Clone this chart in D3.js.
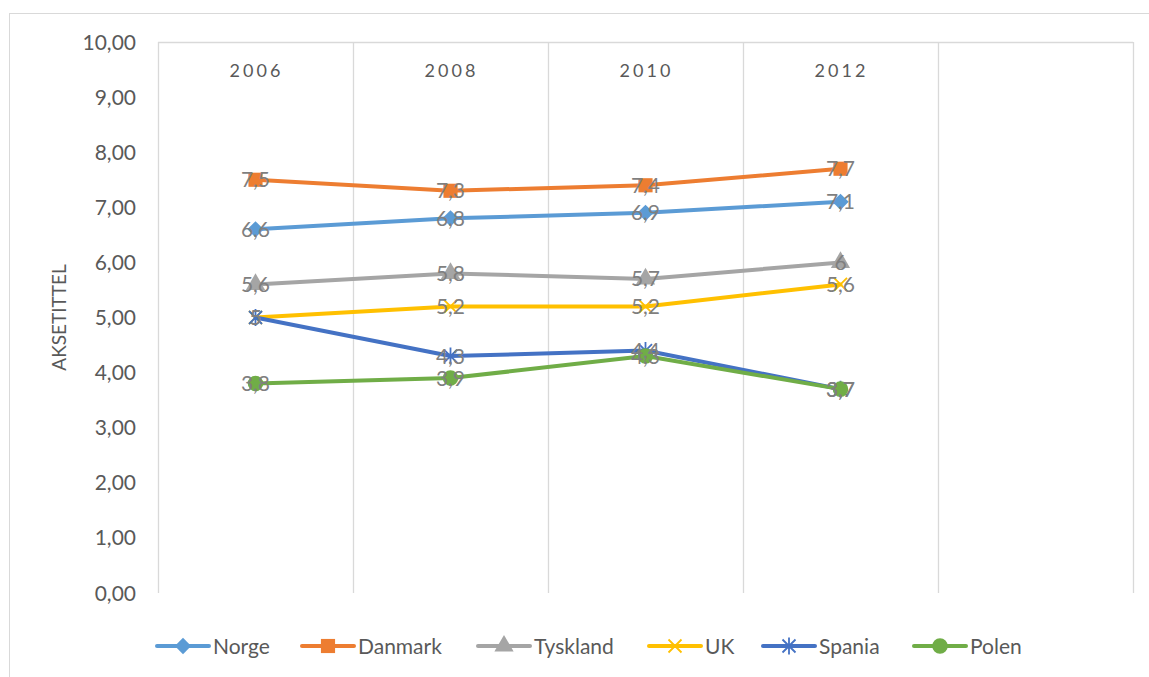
<!DOCTYPE html>
<html>
<head>
<meta charset="utf-8">
<script src="https://cdn.jsdelivr.net/npm/d3@7"></script>
<style>
  body { margin: 0; background: #fff; }
  text { font-family: Lato, "Open Sans", sans-serif; }
</style>
</head>
<body>
<div id="chart"></div>
<script>
// categories (last slot is an empty category, as in the original)
const years = ["2006", "2008", "2010", "2012", ""];
const seriesNames = ["Norge", "Danmark", "Tyskland", "UK", "Spania", "Polen"];
const norge = [6.6, 6.8, 6.9, 7.1];
const danmark = [7.5, 7.3, 7.4, 7.7];
const tyskland = [5.6, 5.8, 5.7, 6];
const uk = [5, 5.2, 5.2, 5.6];
const spania = [5, 4.3, 4.4, 3.7];
const polen = [3.8, 3.9, 4.3, 3.7];
const yTicks = [0, 1, 2, 3, 4, 5, 6, 7, 8, 9, 10];

const colors = ["#5B9BD5", "#ED7D31", "#A5A5A5", "#FFC000", "#4472C4", "#70AD47"];
const shapes = ["diamond", "square", "triangle", "x", "star", "circle"];
const allValues = [norge, danmark, tyskland, uk, spania, polen];

const width = 1149, height = 677;
const margin = {top: 42, right: 16, bottom: 84, left: 158};

const svg = d3.select("#chart")
    .append("svg")
    .attr("width", width)
    .attr("height", height);

// outer chart border (runs off the right/bottom edge like the source)
svg.append("rect")
    .attr("x", 9.5).attr("y", 13.5)
    .attr("width", 1160).attr("height", 700)
    .attr("fill", "none")
    .attr("stroke", "#d9d9d9");

const x = d3.scaleBand()
    .domain(years)
    .range([margin.left, width - margin.right]);

const y = d3.scaleLinear()
    .domain([0, 10])
    .range([height - margin.bottom, margin.top]);

// vertical gridlines at category boundaries
const bounds = years.map(d => x(d)).concat([x.range()[1]]);
svg.append("g")
    .selectAll("line")
    .data(bounds)
    .join("line")
    .attr("x1", d => Math.round(d) + 0.5)
    .attr("x2", d => Math.round(d) + 0.5)
    .attr("y1", y(10))
    .attr("y2", y(0))
    .attr("stroke", "#d9d9d9")
    .attr("stroke-width", 1.3);

// category axis at the top
svg.append("line")
    .attr("x1", x.range()[0]).attr("x2", x.range()[1])
    .attr("y1", y(10) + 0.5).attr("y2", y(10) + 0.5)
    .attr("stroke", "#d9d9d9")
    .attr("stroke-width", 1.3);

svg.append("g")
    .selectAll("text")
    .data(years)
    .join("text")
    .attr("x", d => x(d) + x.bandwidth() / 2 + 1)
    .attr("y", 77)
    .attr("text-anchor", "middle")
    .attr("fill", "#595959")
    .style("font-size", "18px")
    .style("letter-spacing", "3px")
    .text(d => d);

// value axis labels
svg.append("g")
    .selectAll("text")
    .data(yTicks)
    .join("text")
    .attr("x", 136)
    .attr("y", d => y(d))
    .attr("dy", "0.36em")
    .attr("text-anchor", "end")
    .attr("fill", "#595959")
    .style("font-size", "21px")
    .text(d => d3.format(".2f")(d).replace(".", ","));

svg.append("text")
    .attr("transform", `translate(66, ${(y(0) + y(10)) / 2}) rotate(-90)`)
    .attr("text-anchor", "middle")
    .attr("fill", "#595959")
    .style("font-size", "19px")
    .text("AKSETITTEL");

function markerPath(shape) {
    switch (shape) {
        case "diamond": return d3.symbol(d3.symbolDiamond2, 170)();
        case "square": return d3.symbol(d3.symbolSquare, 200)();
        case "triangle": return d3.symbol(d3.symbolTriangle, 160)();
        case "circle": return d3.symbol(d3.symbolCircle, 190)();
        case "x": return "M-6.5,-6.5L6.5,6.5M-6.5,6.5L6.5,-6.5";
        case "star": return "M-6.5,-6.5L6.5,6.5M-6.5,6.5L6.5,-6.5M0,-8.5L0,8.5";
    }
}

function drawMarker(g, shape, color) {
    const p = g.append("path").attr("d", markerPath(shape));
    if (shape === "x" || shape === "star") {
        p.attr("fill", "none").attr("stroke", color).attr("stroke-width", 1.8);
    } else {
        p.attr("fill", color);
    }
}

const xc = (i) => x(years[i]) + x.bandwidth() / 2;
const line = d3.line()
    .x((d, i) => xc(i))
    .y(d => y(d));

// series lines + markers
allValues.forEach((vals, s) => {
    const g = svg.append("g");
    g.append("path")
        .datum(vals)
        .attr("d", line)
        .attr("fill", "none")
        .attr("stroke", colors[s])
        .attr("stroke-width", 4)
        .attr("stroke-linejoin", "round")
        .attr("stroke-linecap", "round");
    vals.forEach((v, i) => {
        const m = g.append("g").attr("transform", `translate(${xc(i)},${y(v)})`);
        drawMarker(m, shapes[s], colors[s]);
    });
});

// data labels centred on the points
allValues.forEach((vals) => {
    svg.append("g")
        .selectAll("text")
        .data(vals)
        .join("text")
        .attr("x", (d, i) => xc(i))
        .attr("y", d => y(d))
        .attr("dy", "0.36em")
        .attr("text-anchor", "middle")
        .attr("fill", "#7f7f7f")
        .style("font-size", "21px")
        .text(d => String(d).replace(".", ","));
});

// legend
const legendX = [155, 300, 476, 647, 761, 912];
const legend = svg.append("g");
seriesNames.forEach((name, s) => {
    const g = legend.append("g").attr("transform", `translate(${legendX[s]}, 646)`);
    g.append("line")
        .attr("x1", 2).attr("x2", 54)
        .attr("stroke", colors[s])
        .attr("stroke-width", 4)
        .attr("stroke-linecap", "round");
    const m = g.append("g").attr("transform", "translate(28,0)");
    drawMarker(m, shapes[s], colors[s]);
    g.append("text")
        .attr("x", 58)
        .attr("dy", "0.36em")
        .attr("fill", "#595959")
        .style("font-size", "21px")
        .text(name);
});
</script>
</body>
</html>
